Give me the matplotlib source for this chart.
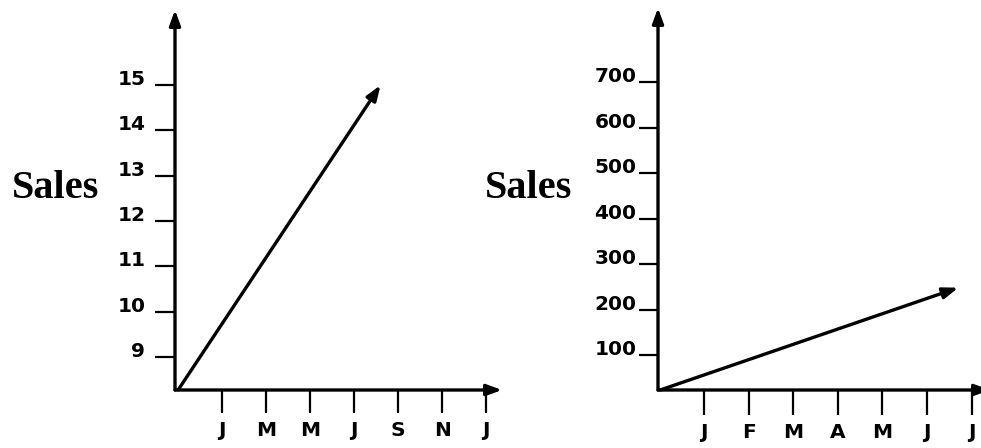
import matplotlib
matplotlib.use('Agg')
import matplotlib.pyplot as plt

# Left chart: steep growth, bimonthly ticks
left_months=['J','M','M','J','S','N','J']
left_month_pos=[1,2,3,4,5,6,7]
left_sales_ticks=[9,10,11,12,13,14,15]
left_trend_x=[0.0,4.6]
left_trend_y=[8.27,15.0]

# Right chart: slow growth, monthly ticks
right_months=['J','F','M','A','M','J','J']
right_month_pos=[1,2,3,4,5,6,7]
right_sales_ticks=[100,200,300,400,500,600,700]
right_trend_x=[0.02,6.7]
right_trend_y=[23,248]

plt.rcParams['ytick.alignment']='baseline'

W,H=981,448
fig=plt.figure(figsize=(W/100,H/100),dpi=100,facecolor='white')

def px_axes(x0,y0,x1,y1):
    # pixel box (origin at top-left of image) -> figure fraction
    return fig.add_axes([x0/W,(H-y0)/H,(x1-x0)/W,(y0-y1)/H])

tick_font=dict(family='DejaVu Sans',weight='bold')
arrow_head=dict(arrowstyle='-|>,head_length=0.6,head_width=0.22',mutation_scale=15,
                color='black',lw=2.4,shrinkA=0,shrinkB=0)

def setup(ax,xlim,ylim,months,mpos,yticks,xlen,ylen,ypad,labsize):
    ax.set_xlim(*xlim)
    ax.set_ylim(*ylim)
    for s in ax.spines.values():
        s.set_visible(False)
    ax.patch.set_alpha(0)
    ax.set_xticks(mpos)
    ax.set_xticklabels(months,fontsize=labsize,**tick_font)
    ax.set_yticks(yticks)
    ax.set_yticklabels([str(v) for v in yticks],fontsize=labsize,**tick_font)
    ax.tick_params(axis='x',direction='out',length=xlen,width=1.6,pad=6)
    ax.tick_params(axis='y',direction='out',length=ylen,width=1.6,pad=ypad)
    # axis lines with arrowheads
    ax.annotate('',xy=(1,0),xytext=(0,0),xycoords='axes fraction',arrowprops=arrow_head)
    ax.annotate('',xy=(0,1),xytext=(0,0),xycoords='axes fraction',arrowprops=arrow_head)

# left panel: origin at (175,390), x-axis tip 502, y-axis tip 10
ax1=px_axes(175,390,502,10)
setup(ax1,(-0.07,7.36),(8.27,16.66),left_months,left_month_pos,left_sales_ticks,16.5,14.4,7,14.5)
ax1.annotate('',xy=(left_trend_x[1],left_trend_y[1]),xytext=(left_trend_x[0],left_trend_y[0]),
             xycoords='data',arrowprops=arrow_head,annotation_clip=False)

# right panel: origin at (658,390), x-axis runs off the image
ax2=px_axes(658,390,990,8)
setup(ax2,(-0.03,7.41),(23,863),right_months,right_month_pos,right_sales_ticks,18,13.5,2,14.5)
ax2.annotate('',xy=(right_trend_x[1],right_trend_y[1]),xytext=(right_trend_x[0],right_trend_y[0]),
             xycoords='data',arrowprops=arrow_head,annotation_clip=False)

fig.text(56/W,1-188/H,'Sales',fontsize=29,fontweight='bold',family='Liberation Serif',
         ha='center',va='center')
fig.text(529/W,1-188/H,'Sales',fontsize=29,fontweight='bold',family='Liberation Serif',
         ha='center',va='center')

fig.savefig('out.png',dpi=100)
